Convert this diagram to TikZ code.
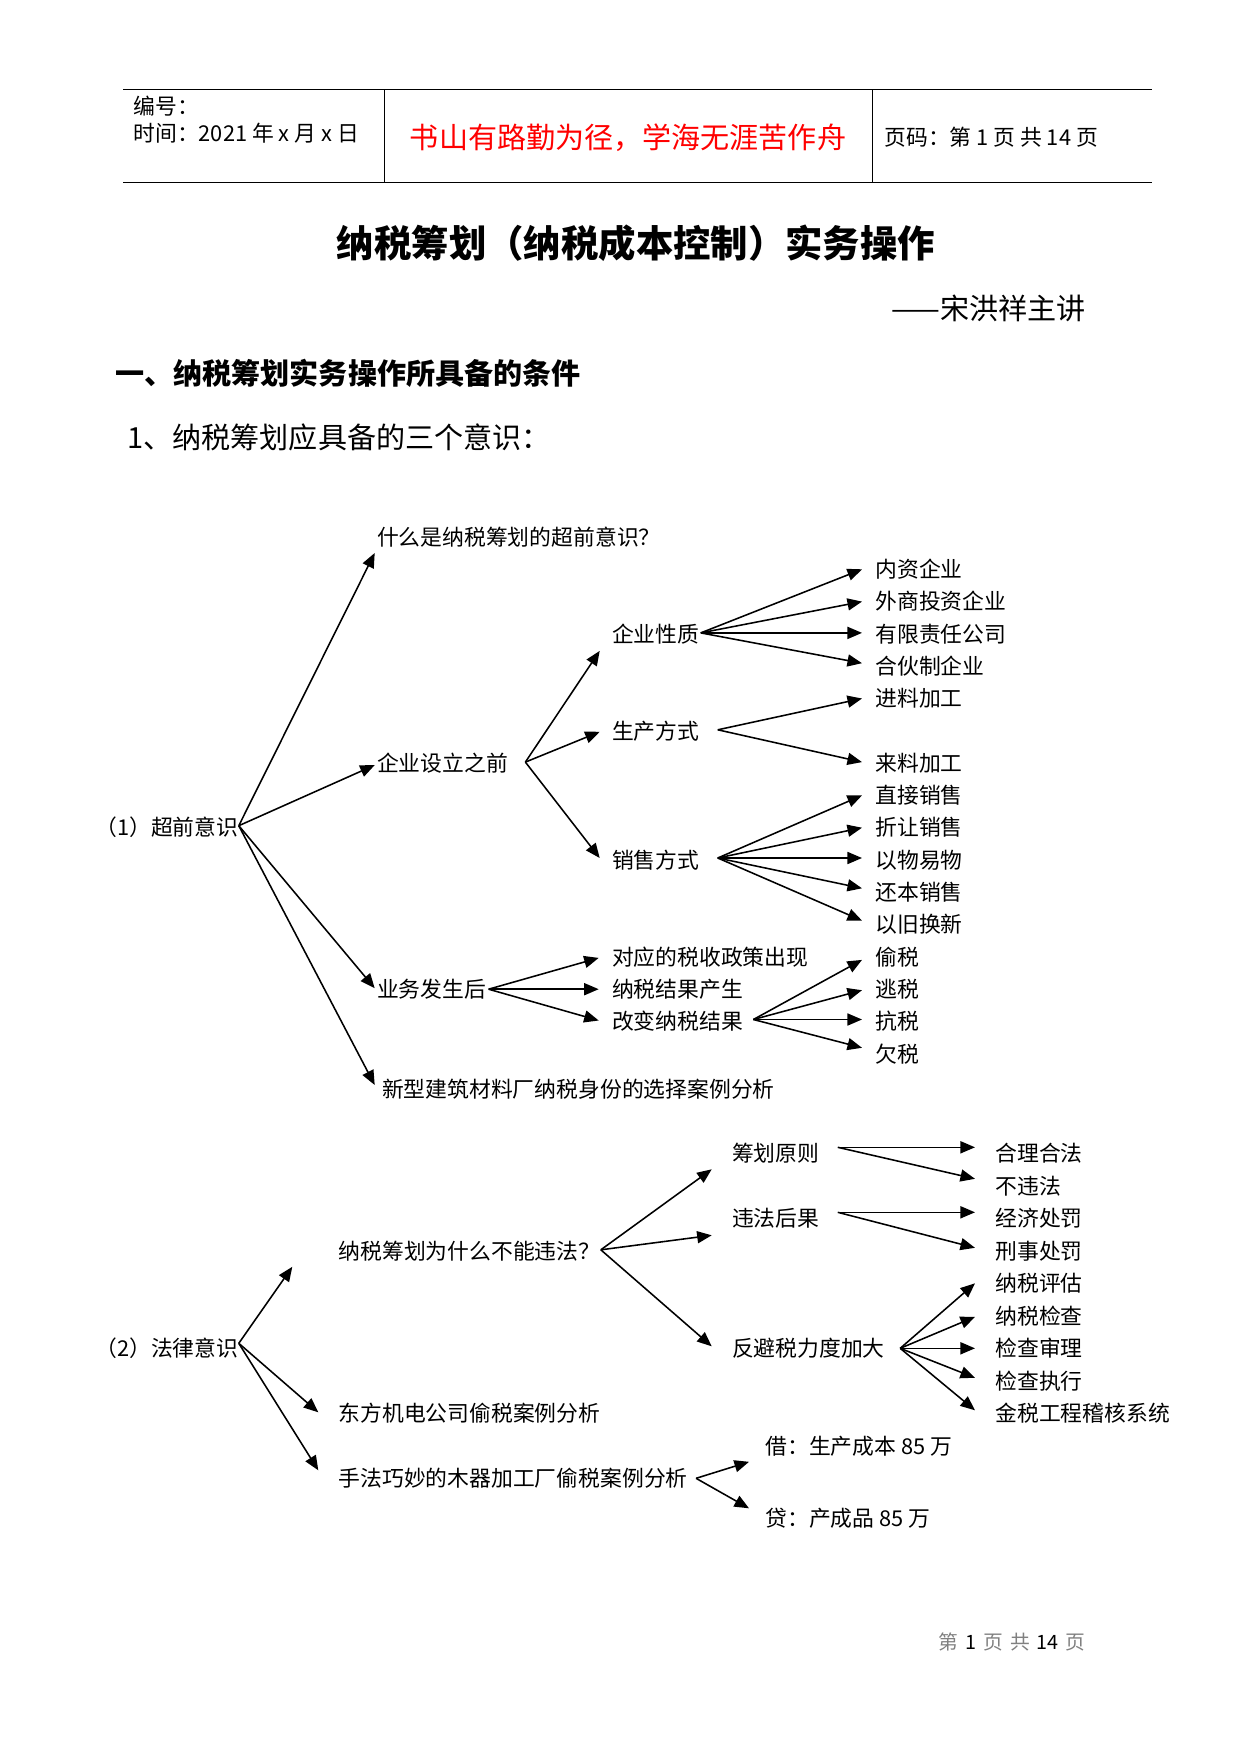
\documentclass[tikz,border=0pt]{standalone}
\usepackage{fontspec}
\setmainfont{Noto Sans CJK SC}
\newfontfamily\footfont{Noto Sans CJK SC}[WordSpace=1.6]
\usepackage{xcolor}
\usetikzlibrary{arrows.meta,calc}

\begin{document}
\begin{tikzpicture}[
			x = 0.48148pt, y = -0.48148pt,
			declare function = {
				ra(\n) = 569.3+32.3*\n;
				rb(\n) = 1153.3+32.5*\n;
			},
			txt/.style = {inner sep = 0pt, anchor = west, text height = 9.2pt, text depth = 1.3pt, font = \fontsize{10.5pt}{12pt}\selectfont},
			big/.style = {inner sep = 0pt, text height = 12.3pt, text depth = 1.7pt, font = \fontsize{14pt}{16pt}\selectfont},
			arr/.style = {line width = 0.75pt, -{Triangle[length = 7pt, width = 5.8pt]}},
			rule/.style = {line width = 0.75pt}]

			\useasboundingbox (0,0) rectangle (1241,1754);

			\draw[rule] (123,89.3) -- (1152,89.3);
			\draw[rule] (123,182.3) -- (1152,182.3);
			\draw[line width = 0.4pt] (384,89.3) -- (384,182.3);
			\draw[line width = 0.4pt] (872,89.3) -- (872,182.3);
			\node[txt] (bh) at (133,106) {编号：};
			\node[txt] (sj) at (133,133) {时间：2021 年 x 月 x 日};
			\node[big, text = red] (motto) at (628,137) {书山有路勤为径，学海无涯苦作舟};
			\node[txt] (ym) at (884,137) {页码：第 1 页 共 14 页};

			\node[inner sep = 0pt, font = \fontsize{18pt}{20pt}\selectfont\bfseries] (title) at (636,243) {纳税筹划（纳税成本控制）实务操作};
			\node[big, anchor = east] (zj) at (1086,308) {——宋洪祥主讲};
			\node[big, anchor = west, font = \fontsize{14pt}{16pt}\selectfont\bfseries] (sec) at (115,373) {一、纳税筹划实务操作所具备的条件};
			\node[big, anchor = west] (item) at (127,437) {1、纳税筹划应具备的三个意识：};

			\node[txt] (chq) at (95,{ra(8)}) {（1）超前意识};
			\node[txt] (wq) at (376.7,{ra(-1)}) {什么是纳税筹划的超前意识？};
			\node[txt] (sl) at (376.7,{ra(6)}) {企业设立之前};
			\node[txt] (ywh) at (376.7,{ra(13)}) {业务发生后};
			\node[txt] (xx) at (381.7,1089) {新型建筑材料厂纳税身份的选择案例分析};
			\node[txt] (qyxz) at (611.7,{ra(2)}) {企业性质};
			\node[txt] (scfs) at (611.7,{ra(5)}) {生产方式};
			\node[txt] (xsfs) at (611.7,{ra(9)}) {销售方式};
			\node[txt] (dyzc) at (611.7,{ra(12)}) {对应的税收政策出现};
			\node[txt] (jgcs) at (611.7,{ra(13)}) {纳税结果产生};
			\node[txt] (gbjg) at (611.7,{ra(14)}) {改变纳税结果};

			\node[txt] (nz) at (875,{ra(0)}) {内资企业};
			\node[txt] (ws) at (875,{ra(1)}) {外商投资企业};
			\node[txt] (yx) at (875,{ra(2)}) {有限责任公司};
			\node[txt] (hh) at (875,{ra(3)}) {合伙制企业};
			\node[txt] (jl) at (875,{ra(4)}) {进料加工};
			\node[txt] (ll) at (875,{ra(6)}) {来料加工};
			\node[txt] (zx) at (875,{ra(7)}) {直接销售};
			\node[txt] (zr) at (875,{ra(8)}) {折让销售};
			\node[txt] (yw) at (875,{ra(9)}) {以物易物};
			\node[txt] (hb) at (875,{ra(10)}) {还本销售};
			\node[txt] (yj) at (875,{ra(11)}) {以旧换新};
			\node[txt] (ts) at (875,{ra(12)}) {偷税};
			\node[txt] (tt) at (875,{ra(13)}) {逃税};
			\node[txt] (ks) at (875,{ra(14)}) {抗税};
			\node[txt] (qs) at (875,{ra(15)}) {欠税};

			\coordinate (chq-o) at ($(chq.east)+(0,-2)$);
			\coordinate (sl-o) at ($(sl.east)+(17,-1)$);
			\coordinate (qyxz-o) at ($(qyxz.east)+(1,-1)$);
			\coordinate (scfs-o) at ($(scfs.east)+(18,-1)$);
			\coordinate (xsfs-o) at ($(xsfs.east)+(18,-2)$);
			\coordinate (ywh-o) at ($(ywh.east)+(2,0)$);
			\coordinate (gbjg-o) at ($(gbjg.east)+(10,-2)$);

			\draw[arr] (chq-o) -- ($(wq.west)+(-2,16)$);
			\draw[arr] (chq-o) -- ($(sl.west)+(-2,2)$);
			\draw[arr] (chq-o) -- ($(ywh.west)+(-2,-1)$);
			\draw[arr] (chq-o) -- ($(xx.west)+(-7,-4)$);

			\draw[arr] (sl-o) -- ($(qyxz.west)+(-12,17)$);
			\draw[arr] (sl-o) -- ($(scfs.west)+(-12,1)$);
			\draw[arr] (sl-o) -- ($(xsfs.west)+(-12,-2)$);

			\draw[arr] (qyxz-o) -- ($(nz.west)+(-13,0)$);
			\draw[arr] (qyxz-o) -- ($(ws.west)+(-13,0)$);
			\draw[arr] (qyxz-o) -- ($(yx.west)+(-13,-1)$);
			\draw[arr] (qyxz-o) -- ($(hh.west)+(-13,-3)$);

			\draw[arr] (scfs-o) -- ($(jl.west)+(-13,0)$);
			\draw[arr] (scfs-o) -- ($(ll.west)+(-13,-1)$);

			\draw[arr] (xsfs-o) -- ($(zx.west)+(-13,0)$);
			\draw[arr] (xsfs-o) -- ($(zr.west)+(-13,0)$);
			\draw[arr] (xsfs-o) -- ($(yw.west)+(-13,-2)$);
			\draw[arr] (xsfs-o) -- ($(hb.west)+(-13,-4)$);
			\draw[arr] (xsfs-o) -- ($(yj.west)+(-13,-4)$);

			\draw[arr] (ywh-o) -- ($(dyzc.west)+(-13,1)$);
			\draw[arr] (ywh-o) -- ($(jgcs.west)+(-13,0)$);
			\draw[arr] (ywh-o) -- ($(gbjg.west)+(-13,-1)$);

			\draw[arr] (gbjg-o) -- ($(ts.west)+(-13,3)$);
			\draw[arr] (gbjg-o) -- ($(tt.west)+(-13,1)$);
			\draw[arr] (gbjg-o) -- ($(ks.west)+(-13,-2)$);
			\draw[arr] (gbjg-o) -- ($(qs.west)+(-13,-6)$);

			\node[txt] (fl) at (95,{rb(6)}) {（2）法律意识};
			\node[txt] (bnwf) at (338.3,{rb(3)}) {纳税筹划为什么不能违法？};
			\node[txt] (dfjd) at (338.3,{rb(8)}) {东方机电公司偷税案例分析};
			\node[txt] (sfqm) at (338.3,{rb(10)}) {手法巧妙的木器加工厂偷税案例分析};
			\node[txt] (chyz) at (731.7,{rb(0)}) {筹划原则};
			\node[txt] (wfhg) at (731.7,{rb(2)}) {违法后果};
			\node[txt] (fbs) at (731.7,{rb(6)}) {反避税力度加大};
			\node[txt] (jie) at (765,{rb(9)}) {借：生产成本 85 万};
			\node[txt] (dai) at (765,1518.3) {贷：产成品 85 万};

			\node[txt] (hlhf) at (995,{rb(0)}) {合理合法};
			\node[txt] (bwf) at (995,{rb(1)}) {不违法};
			\node[txt] (jjcf) at (995,{rb(2)}) {经济处罚};
			\node[txt] (xscf) at (995,{rb(3)}) {刑事处罚};
			\node[txt] (nspg) at (995,{rb(4)}) {纳税评估};
			\node[txt] (nsjc) at (995,{rb(5)}) {纳税检查};
			\node[txt] (jcsl) at (995,{rb(6)}) {检查审理};
			\node[txt] (jczx) at (995,{rb(7)}) {检查执行};
			\node[txt] (jsgc) at (995,{rb(8)}) {金税工程稽核系统};

			\coordinate (fl-o) at ($(fl.east)+(0,-5)$);
			\coordinate (bnwf-o) at ($(bnwf.east)+(0,-1)$);
			\coordinate (chyz-o) at ($(chyz.east)+(18,-6)$);
			\coordinate (wfhg-o) at ($(wfhg.east)+(18,-6)$);
			\coordinate (fbs-o) at ($(fbs.east)+(15,0)$);
			\coordinate (sfqm-o) at ($(sfqm.east)+(8,0)$);

			\draw[arr] (fl-o) -- ($(bnwf.west)+(-46,16)$);
			\draw[arr] (fl-o) -- ($(dfjd.west)+(-20,-1)$);
			\draw[arr] (fl-o) -- ($(sfqm.west)+(-20,-8)$);

			\draw[arr] (bnwf-o) -- ($(chyz.west)+(-20,16)$);
			\draw[arr] (bnwf-o) -- ($(wfhg.west)+(-20,17)$);
			\draw[arr] (bnwf-o) -- ($(fbs.west)+(-20,-2)$);

			\draw[arr] (chyz-o) -- ($(hlhf.west)+(-20,-6)$);
			\draw[arr] (chyz-o) -- ($(bwf.west)+(-20,-7)$);
			\draw[arr] (wfhg-o) -- ($(jjcf.west)+(-20,-6)$);
			\draw[arr] (wfhg-o) -- ($(xscf.west)+(-20,-3)$);

			\draw[arr] (fbs-o) -- ($(nspg.west)+(-20,0)$);
			\draw[arr] (fbs-o) -- ($(nsjc.west)+(-20,1)$);
			\draw[arr] (fbs-o) -- ($(jcsl.west)+(-20,0)$);
			\draw[arr] (fbs-o) -- ($(jczx.west)+(-20,-3)$);
			\draw[arr] (fbs-o) -- ($(jsgc.west)+(-20,-3)$);

			\draw[arr] (sfqm-o) -- ($(jie.west)+(-16,16)$);
			\draw[arr] (sfqm-o) -- ($(dai.west)+(-16,-10)$);

			\node[txt, font = \footfont\fontsize{9.5pt}{11pt}\selectfont] (foot) at (938,1641.7) {\textcolor{gray}{第} 1 \textcolor{gray}{页} \textcolor{gray}{共} 14 \textcolor{gray}{页}};

		\end{tikzpicture}
\end{document}
